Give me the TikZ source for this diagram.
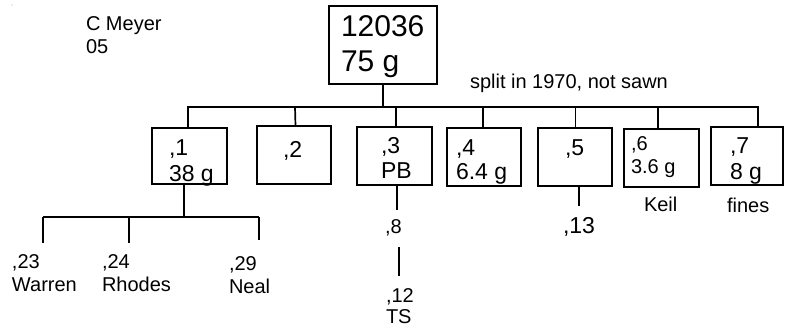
\documentclass[tikz,border=0pt]{standalone}
\usepackage{fontspec}
\setmainfont{Liberation Sans}
\newcommand\fbig{\fontsize{30}{34.7}\selectfont}
\newcommand\fmid{\fontsize{23}{26}\selectfont}
\newcommand\fsml{\fontsize{20}{23}\selectfont}
\newcommand\twol[2]{\vtop{\hbox{#1}\hbox{#2}}}
\begin{document}
\begin{tikzpicture}[x=1pt,y=-1pt,
  line width=1.7pt,
  box/.style={draw, rectangle, inner sep=0pt, outer sep=0pt},
  lbl/.style={anchor=base west, inner sep=0pt, outer sep=0pt}]
\useasboundingbox (0,0) rectangle (786,326);
% stray dot
\fill[gray!60] (12,5) circle (0.7);
% boxes
\node[box, minimum width=108, minimum height=78] (top) at (383,45) {};
\node[box, minimum width=75, minimum height=56] (b1) at (189.5,156) {};
\node[box, minimum width=74, minimum height=58] (b2) at (294,155) {};
\node[box, minimum width=75, minimum height=58] (b3) at (394.5,156) {};
\node[box, minimum width=74, minimum height=58] (b4) at (484,157) {};
\node[box, minimum width=74, minimum height=58] (b5) at (575,157) {};
\node[box, minimum width=75, minimum height=58] (b6) at (661.5,158) {};
\node[box, minimum width=72, minimum height=58] (b7) at (747,156) {};
% texts
\node[lbl, font=\fsml] (meyer) at (86,30.7) {\fontsize{20}{22.5}\selectfont\twol{C Meyer}{05}};
\node[lbl, font=\fbig] (toptxt) at (341,37) {\twol{12036}{75 g}};
\node[lbl, font=\fsml] (split) at (470,89) {split in 1970, not sawn};
\node[lbl, font=\fmid] (t1) at (169,155) {\twol{,1}{38 g}};
\node[lbl, font=\fmid] (t2) at (283,157) {,2};
\node[lbl, font=\fmid] (t3) at (381,153) {\fontsize{23}{25}\selectfont\twol{,3}{PB}};
\node[lbl, font=\fmid] (t4) at (456,155) {\fontsize{23}{24}\selectfont\twol{,4}{6.4 g}};
\node[lbl, font=\fmid] (t5) at (565,155) {,5};
\node[lbl, font=\fsml] (t6) at (631,150) {\twol{,6}{3.6 g}};
\node[lbl, font=\fmid] (t7) at (730,153) {\twol{,7}{8 g}};
\node[lbl, font=\fsml] (keil) at (644,211) {Keil};
\node[lbl, font=\fsml] (fines) at (727,212) {fines};
\node[lbl, font=\fmid] (t13) at (563,233) {,13};
\node[lbl, font=\fsml] (t8) at (385,233) {,8};
\node[lbl, font=\fsml] (t12) at (386,302) {\fontsize{20}{21}\selectfont\twol{,12}{TS}};
\node[lbl, font=\fsml] (t23) at (12,268) {\twol{,23}{Warren}};
\node[lbl, font=\fsml] (t24) at (102,268) {\twol{,24}{Rhodes}};
\node[lbl, font=\fsml] (t29) at (229,270) {\twol{,29}{Neal}};
% main bus
\coordinate (j7) at (758,107);
\draw (top.south) -- (top.south |- j7);
\draw ([xshift=-1.5]b1.north) -- ([xshift=-1.5]b1.north |- j7) -- (j7) -- (j7 |- b7.north);
\draw ([xshift=1]b2.north |- j7) -- ([xshift=1.5]b2.north);
\draw ([xshift=1.5]b3.north |- j7) -- ([xshift=1.5]b3.north);
\draw ([xshift=-1]b4.north |- j7) -- ([xshift=-1]b4.north);
\draw ([xshift=0.5]b5.north |- j7) -- ([xshift=0.5]b5.north);
\draw ([xshift=-3.5]b6.north |- j7) -- ([xshift=-3.5]b6.north);
% below box 1
\coordinate (s1) at (184,217);
\coordinate (d23) at (43,243);
\coordinate (d24) at (129,243);
\coordinate (d29) at (259,240);
\draw (s1 |- b1.south) -- (s1);
\draw (d23 |- s1) -- (d29 |- s1);
\draw (d23 |- s1) -- (d23);
\draw (d24 |- s1) -- (d24);
\draw (d29 |- s1) -- (d29);
% below box 3
\coordinate (s3) at (397,210);
\draw (s3 |- b3.south) -- (s3);
\coordinate (s8a) at (399,247);
\coordinate (s8b) at (399,276);
\draw (s8a) -- (s8b);
% below box 5
\coordinate (s5) at (579,206);
\draw (s5 |- b5.south) -- (s5);
\end{tikzpicture}
\end{document}
